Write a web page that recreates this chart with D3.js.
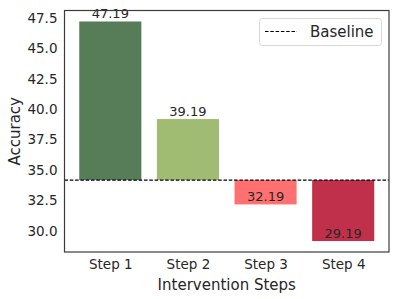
<!DOCTYPE html>
<html>
<head>
<meta charset="utf-8">
<script src="https://cdn.jsdelivr.net/npm/d3@7"></script>
<style>
  body { margin: 0; background: #fff; }
  text { font-family: "DejaVu Sans", sans-serif; fill: #262626; }
</style>
</head>
<body>
<svg width="399" height="299"></svg>
<script>
const steps = ['Step 1', 'Step 2', 'Step 3', 'Step 4'];
const accuracy = [47.19, 39.19, 32.19, 29.19];
const baseline = 34.19;
const colors = ['#567d57', '#a0bc73', '#ff7070', '#c0304a'];
const yTicks = [30.0, 32.5, 35.0, 37.5, 40.0, 42.5, 45.0, 47.5];

const plotLeft = 64.5, plotRight = 389, plotTop = 10.5, plotBottom = 252;

const svg = d3.select('svg');

const xScale = d3.scaleLinear()
    .domain([-0.59, 3.59])
    .range([plotLeft, plotRight]);

const yScale = d3.scaleLinear()
    .domain([28.29, 48.09])
    .range([plotBottom, plotTop]);

const barWidth = xScale(0.4) - xScale(-0.4);

// bars from the baseline
svg.append('g')
    .selectAll('rect')
    .data(accuracy)
    .enter()
    .append('rect')
    .attr('x', (d, i) => xScale(i) - barWidth / 2)
    .attr('y', (d) => yScale(Math.max(d, baseline)))
    .attr('height', (d) => Math.abs(yScale(d) - yScale(baseline)))
    .attr('width', barWidth)
    .attr('fill', (d, i) => colors[i]);

// value labels
svg.append('g')
    .selectAll('text')
    .data(accuracy)
    .enter()
    .append('text')
    .attr('x', (d, i) => xScale(i))
    .attr('y', (d) => yScale(d) - 3)
    .attr('text-anchor', 'middle')
    .style('font-size', '13px')
    .text((d) => d.toFixed(2));

// baseline
svg.append('line')
    .attr('x1', plotLeft).attr('x2', plotRight)
    .attr('y1', yScale(baseline)).attr('y2', yScale(baseline))
    .attr('stroke', '#000')
    .attr('stroke-width', 1.2)
    .attr('stroke-dasharray', '3.5,1.8');

// y axis ticks
const yAxis = svg.append('g')
    .attr('transform', `translate(${plotLeft},0)`)
    .call(d3.axisLeft(yScale).tickValues(yTicks).tickSize(0).tickPadding(7).tickFormat(d3.format('.1f')));
yAxis.select('.domain').remove();
yAxis.selectAll('text').style('font-size', '13.5px').attr('fill', '#262626');

// x axis ticks
const xAxis = svg.append('g')
    .attr('transform', `translate(0,${plotBottom})`)
    .call(d3.axisBottom(xScale).tickValues([0, 1, 2, 3]).tickSize(0).tickPadding(7).tickFormat((d) => steps[d]));
xAxis.select('.domain').remove();
xAxis.selectAll('text').style('font-size', '13.5px').attr('fill', '#262626');

// frame
svg.append('rect')
    .attr('x', plotLeft).attr('y', plotTop)
    .attr('width', plotRight - plotLeft).attr('height', plotBottom - plotTop)
    .attr('fill', 'none')
    .attr('stroke', '#3b3b3b')
    .attr('stroke-width', 1.2);

// axis titles
svg.append('text')
    .attr('x', (plotLeft + plotRight) / 2)
    .attr('y', 290)
    .attr('text-anchor', 'middle')
    .style('font-size', '15px')
    .text('Intervention Steps');

svg.append('text')
    .attr('transform', `translate(20,${(plotTop + plotBottom) / 2}) rotate(-90)`)
    .attr('text-anchor', 'middle')
    .style('font-size', '15px')
    .text('Accuracy');

// legend
const legend = svg.append('g');
legend.append('rect')
    .attr('x', 259.5).attr('y', 18.5)
    .attr('width', 122).attr('height', 27)
    .attr('rx', 3)
    .attr('fill', '#fff')
    .attr('stroke', '#d6d6d6');
legend.append('line')
    .attr('x1', 265).attr('x2', 297)
    .attr('y1', 31.5).attr('y2', 31.5)
    .attr('stroke', '#000')
    .attr('stroke-width', 1.2)
    .attr('stroke-dasharray', '3.5,1.8');
legend.append('text')
    .attr('x', 310).attr('y', 37)
    .style('font-size', '15px')
    .text('Baseline');
</script>
</body>
</html>
